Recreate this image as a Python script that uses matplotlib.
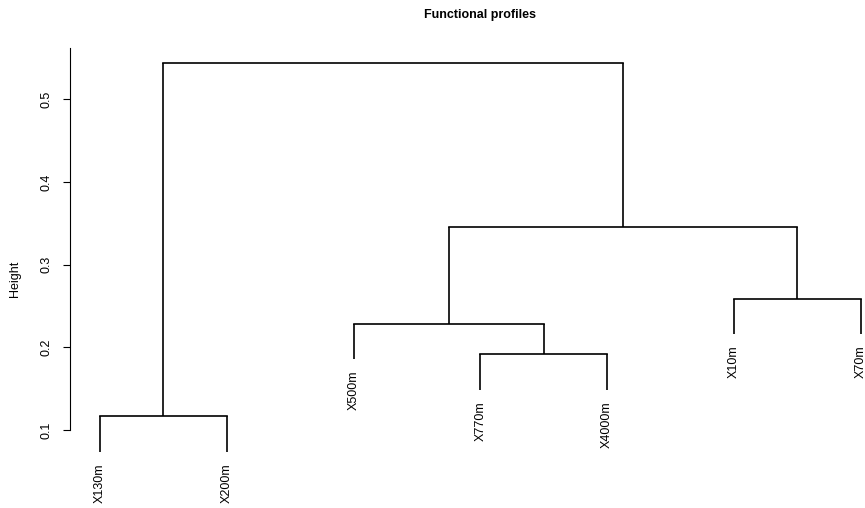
import matplotlib
matplotlib.use("Agg")
import matplotlib.pyplot as plt

plt.rcParams["font.family"] = ["Liberation Sans", "DejaVu Sans"]

# leaves in plotting order
labels = ["X130m", "X200m", "X500m", "X770m", "X4000m", "X10m", "X70m"]

# hclust-style merge table: negative = leaf (1-based), positive = earlier merge step
merge_left = [-1, -4, -3, -6, 3, 1]
merge_right = [-2, -5, 2, -7, 4, 5]
merge_height = [0.1166, 0.1916, 0.2286, 0.2585, 0.346, 0.5435]

yticks = [0.1, 0.2, 0.3, 0.4, 0.5]

hang = 0.1 * (max(merge_height) - min(merge_height))
n = len(labels)


def node_pos(ref, xs, hs):
    # x and top y of a leaf or a merged cluster
    if ref < 0:
        return ref * -1, None
    return xs[ref - 1], hs[ref - 1]


fig = plt.figure(figsize=(8.65, 5.08), dpi=100)

ylo, yhi = 0.055, 0.5623
ax = fig.add_axes([69.6 / 865, 1 - 467.2 / 508, (891.1 - 69.6) / 865, (467.2 - 47.8) / 508])
ax.set_xlim(0.76, n + 0.24)
ax.set_ylim(ylo, yhi)

xs = []
lw = 1.2
for i in range(len(merge_height)):
    h = merge_height[i]
    pts = []
    for ref in (merge_left[i], merge_right[i]):
        x, top = node_pos(ref, xs, merge_height)
        if top is None:
            bottom = h - hang
            ax.text(x, bottom - 0.014, labels[x - 1], rotation=90, ha="center", va="top",
                    fontsize=9)
        else:
            bottom = top
        ax.plot([x, x], [bottom, h], color="black", lw=lw, solid_capstyle="butt")
        pts.append(x)
    ax.plot(pts, [h, h], color="black", lw=lw, solid_capstyle="projecting")
    xs.append((pts[0] + pts[1]) / 2)

for side in ("top", "right", "bottom"):
    ax.spines[side].set_visible(False)
ax.spines["left"].set_bounds(0.1, yhi)
ax.spines["left"].set_linewidth(0.8)
ax.set_xticks([])
ax.set_yticks(yticks)
ax.set_yticklabels([str(t) for t in yticks], rotation=90, va="center", fontsize=9)
ax.tick_params(axis="y", length=5, width=0.8, pad=7)

fig.text(15 / 865, 1 - 279 / 508, "Height", rotation=90, ha="center", va="center", fontsize=9)
fig.text(480 / 865, 1 - 15 / 508, "Functional profiles", ha="center", va="center",
         fontsize=9, fontweight="bold")

fig.savefig("out.png", dpi=100)
